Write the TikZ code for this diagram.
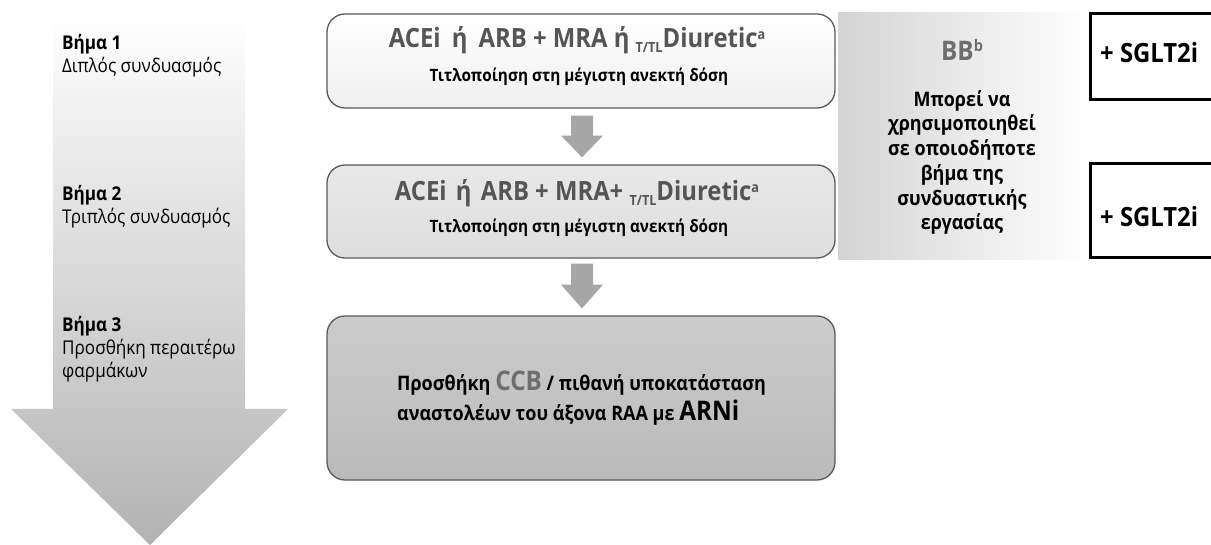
\documentclass[tikz,border=0pt]{standalone}
\usepackage{fontspec}
\setmainfont{Open Sans}[FakeStretch=0.9]
\usetikzlibrary{calc}
\definecolor{titlegray}{HTML}{555555}
\definecolor{bordergray}{HTML}{5A5A5A}
\definecolor{ccbgray}{HTML}{6E6E6E}
\definecolor{arrowgray}{HTML}{A6A6A6}
\newcommand{\fsz}[1]{\fontsize{#1}{#1}\selectfont}
\newcommand{\sbt}{\raisebox{-5pt}{\fsz{14}T/TL}}
\newcommand{\spa}{\raisebox{8pt}{\fsz{14}a}}
\begin{document}
\begin{tikzpicture}[x=1pt,y=-1pt,
  stepbox/.style={draw=bordergray, line width=1.3pt, rounded corners=18pt,
    minimum width=508pt, inner sep=0pt},
  titletext/.style={text=titlegray, font=\fsz{26.5}\bfseries, inner sep=0pt},
  subtext/.style={text=black, font=\fsz{17}\bfseries, inner sep=0pt},
  steptext/.style={anchor=west, inner sep=0pt, align=left, font=\fsz{19}},
  stephead/.style={anchor=west, inner sep=0pt, font=\fsz{19}\bfseries},
  sgltbox/.style={draw=black, line width=3pt, fill=white, minimum width=125pt,
    inner sep=0pt},
  sglttext/.style={anchor=west, inner sep=0pt, font=\fsz{26.5}\bfseries},
  bbtext/.style={inner sep=0pt, align=center, font=\fsz{20}\bfseries},
  boxtext/.style={anchor=west, inner sep=0pt, font=\fsz{20}\bfseries},
  blockarrow/.style={fill=arrowgray}
]
\useasboundingbox (0,0) rectangle (1211,545);
% big step arrow
\shade[top color=white, bottom color=black!30]
  (53,12) -- (245,12) -- (245,409) -- (288,409) -- (150,545) -- (11,409) -- (53,409) -- cycle;
\node[stephead] (s1a) at (62,44) {Βήμα 1};
\node[steptext] (s1b) at (62,67) {Διπλός συνδυασμός};
\node[stephead] (s2a) at (62,195) {Βήμα 2};
\node[steptext] (s2b) at (62,218) {Τριπλός συνδυασμός};
\node[stephead] (s3a) at (62,326) {Βήμα 3};
\node[steptext] (s3b) at (62,349) {Προσθήκη περαιτέρω};
\node[steptext] (s3c) at (62,372) {φαρμάκων};
% BB shaded area
\shade[left color=black!17, right color=white] (838,13) rectangle (1088,260);
% boxes
\node[stepbox, minimum height=94pt, top color=white, bottom color=black!6] (box1) at (581,61) {};
\node[stepbox, minimum height=93pt, top color=black!9, bottom color=black!13] (box2) at (581,211.5) {};
\node[stepbox, minimum height=164pt, top color=black!20, bottom color=black!27] (box3) at (581,398) {};
% texts in boxes
\node[titletext] (t1) at (577,40) {ACEi\hspace{5pt} ή\hspace{5pt} ARB + MRA ή \sbt Diuretic\spa};
\node[subtext] (u1) at (579,77) {Τιτλοποίηση στη μέγιστη ανεκτή δόση};
\node[titletext] (t2) at (577,193) {ACEi\hspace{3pt} ή\hspace{3pt} ARB + MRA+ \sbt Diuretic\spa};
\node[subtext] (u2) at (579,228) {Τιτλοποίηση στη μέγιστη ανεκτή δόση};
\node[boxtext] (c1) at (397,383)
  {Προσθήκη {\fsz{27}\color{ccbgray}CCB} / πιθανή υποκατάσταση};
\node[boxtext] (c2) at (397,413)
  {αναστολέων του άξονα RAA με {\fsz{27}ARNi}};
% connector arrows
\fill[blockarrow] ($(box1.south)+(-10,7)$) -- ($(box1.south)+(12,7)$) -- ($(box1.south)+(12,27)$)
  -- ($(box1.south)+(22,27)$) -- ($(box2.north)+(1,-7)$) -- ($(box1.south)+(-20,27)$)
  -- ($(box1.south)+(-10,27)$) -- cycle;
\fill[blockarrow] ($(box2.south)+(-10,5)$) -- ($(box2.south)+(12,5)$) -- ($(box2.south)+(12,26)$)
  -- ($(box2.south)+(22,26)$) -- ($(box3.north)+(1,-7)$) -- ($(box2.south)+(-20,26)$)
  -- ($(box2.south)+(-10,26)$) -- cycle;
% BB text
\node[inner sep=0pt, text=ccbgray, font=\fsz{27}\bfseries] (bb) at (962,50) {BB\raisebox{9pt}{\fsz{16}b}};
\node[bbtext, text depth=0pt] (bbt) at (962,160) {Μπορεί να\\[3pt] χρησιμοποιηθεί\\[3pt] σε οποιοδήποτε\\[3pt] βήμα της\\[3pt] συνδυαστικής\\[3pt] εργασίας};
% SGLT2i boxes
\node[sgltbox, minimum height=86pt] (g1) at (1153,57) {};
\node[sgltbox, minimum height=94pt] (g2) at (1153,211) {};
\node[sglttext] (g1t) at (1100,53) {+ SGLT2i};
\node[sglttext] (g2t) at (1100,217) {+ SGLT2i};
\end{tikzpicture}
\end{document}
